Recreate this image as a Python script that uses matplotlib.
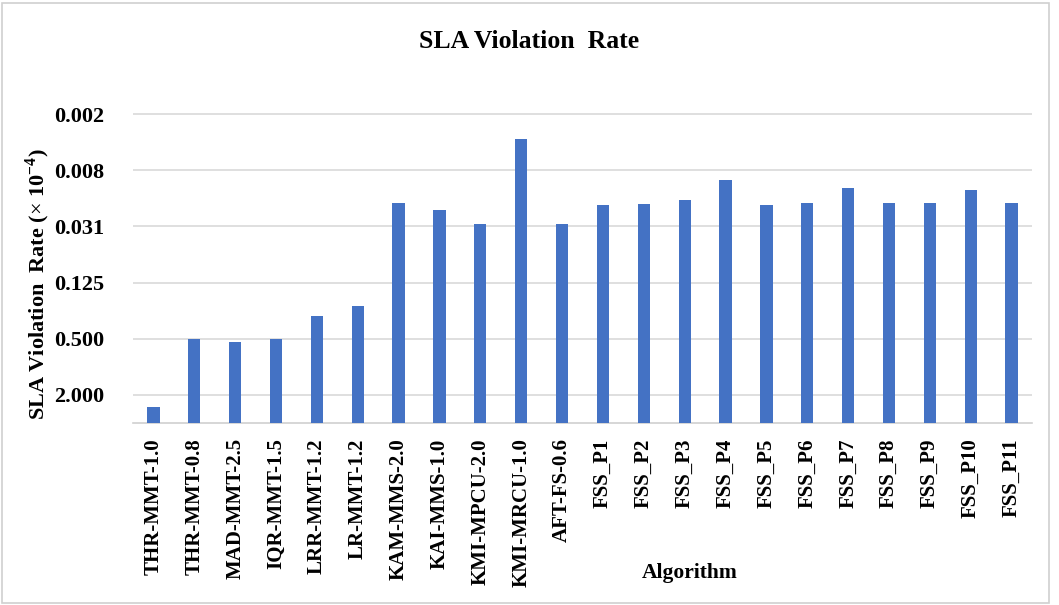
import matplotlib
matplotlib.use("Agg")
import matplotlib.pyplot as plt
import matplotlib.patches as patches
import numpy as np

categories = ["THR-MMT-1.0", "THR-MMT-0.8", "MAD-MMT-2.5", "IQR-MMT-1.5", "LRR-MMT-1.2",
              "LR-MMT-1.2", "KAM-MMS-2.0", "KAI-MMS-1.0", "KMI-MPCU-2.0", "KMI-MRCU-1.0",
              "AFT-FS-0.6", "FSS_P1", "FSS_P2", "FSS_P3", "FSS_P4", "FSS_P5", "FSS_P6",
              "FSS_P7", "FSS_P8", "FSS_P9", "FSS_P10", "FSS_P11"]
sla_values = [2.71, 0.506, 0.537, 0.506, 0.285, 0.223, 0.0177, 0.0210, 0.0292, 0.00365,
              0.0292, 0.0186, 0.0179, 0.0163, 0.00996, 0.0186, 0.0177, 0.0122, 0.0177,
              0.0177, 0.0127, 0.0177]
tick_values = [2**-9, 2**-7, 2**-5, 2**-3, 2**-1, 2**1]
tick_labels = ["0.002", "0.008", "0.031", "0.125", "0.500", "2.000"]
axis_base = 4.0

plt.rcParams['font.family'] = ['Liberation Serif', 'DejaVu Serif']
plt.rcParams['mathtext.fontset'] = 'custom'
plt.rcParams['mathtext.rm'] = 'Liberation Serif'
plt.rcParams['mathtext.bf'] = 'Liberation Serif:bold'

W, H = 1059, 605
fig = plt.figure(figsize=(W/100, H/100), dpi=100)
fig.patch.set_facecolor('white')

left, right, top, bottom = 133, 1032, 86, 423
ax = fig.add_axes([left/W, 1-bottom/H, (right-left)/W, (bottom-top)/H])

x = np.arange(len(categories))
vals = np.array(sla_values)
ax.bar(x, axis_base - vals, bottom=vals, width=0.3, color='#4472C4', zorder=3)

ax.set_yscale('log', base=2)
ax.set_ylim(axis_base, 2**-10)
ax.set_xlim(-0.5, len(categories)-0.5)
ax.set_yticks(tick_values)
ax.set_yticklabels(tick_labels)
ax.minorticks_off()
ax.yaxis.grid(True, color='#d9d9d9', linewidth=1.2, zorder=0)
ax.set_axisbelow(True)

for s in ['top', 'right', 'left']:
    ax.spines[s].set_visible(False)
ax.spines['bottom'].set_color('#d0d0d0')
ax.spines['bottom'].set_linewidth(1.2)

ax.tick_params(axis='y', length=0, pad=21, labelsize=16)
ax.tick_params(axis='x', length=0, pad=11, labelsize=15)
ax.set_xticks(x)
ax.set_xticklabels(categories, rotation=90, fontweight='bold')
for lab in ax.get_yticklabels():
    lab.set_fontweight('bold')

fig.text(529/W, 1-42/H, "SLA Violation  Rate", ha='center', va='center',
         fontsize=18.5, fontweight='bold')
fig.text(38/W, 1-284/H, r"SLA Violation  Rate ($\times$ 10$^{\mathbf{-4}}$)",
         rotation=90, ha='center', va='center', fontsize=16, fontweight='bold')
fig.text(690/W, 1-573/H, "Algorithm", ha='center', va='center',
         fontsize=15.5, fontweight='bold')

fig.patches.append(patches.Rectangle((2/W, 2/H), (W-12)/W, (H-5)/H, transform=fig.transFigure,
                                     fill=False, edgecolor='#d0d0d0', linewidth=1.2))

fig.savefig('out.png', dpi=100, facecolor='white')
